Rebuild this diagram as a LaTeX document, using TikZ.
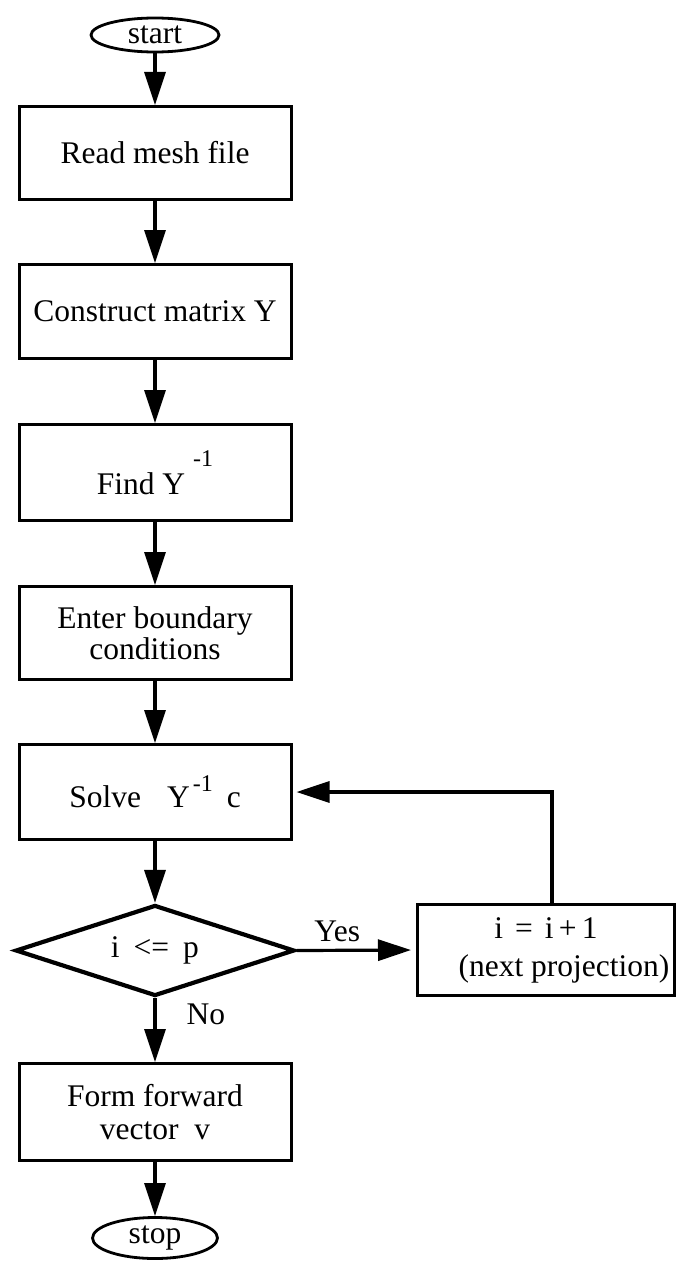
\documentclass[tikz,border=0pt]{standalone}
\usepackage{fontspec}
\setmainfont{Liberation Serif}
\usetikzlibrary{shapes.geometric,arrows.meta,calc}
% raised "-1" exponent
\newcommand\minusone[1]{\raisebox{#1}{\fontsize{24}{24}\selectfont -1}}
\begin{document}
\begin{tikzpicture}[x=1pt,y=-1pt,
  every node/.style={font=\fontsize{31.5}{32}\selectfont},
  proc/.style={draw, line width=3, rectangle, minimum width=272, minimum height=94, inner sep=0, align=center},
  term/.style={draw, line width=2.8, ellipse, inner sep=0},
  decision/.style={draw, line width=4.2, diamond, aspect=3, minimum width=279, minimum height=91, inner sep=0},
  flow/.style={line width=3.2, -{Triangle[length=33pt,width=21pt]}},
  lbl/.style={inner sep=0, anchor=base}]
\useasboundingbox (0,0) rectangle (683,1263);

% main column
\node[term, minimum width=128, minimum height=34] (start) at (155,35) {start};
\node[proc, minimum height=93] (read) at (155,153) {Read mesh file};
\node[proc] (construct) at (155,311.5) {Construct matrix Y};
\node[proc, minimum height=96] (find) at (155,472.5) {Find Y\hspace{8pt}\minusone{28pt}};
\node[proc, minimum height=93] (enter) at (155,633) {Enter boundary\\[-1pt]conditions};
\node[proc, minimum height=95] (solve) at (155,792) {Solve\hspace{26pt}Y\hspace{3pt}\minusone{16pt}\hspace{14pt}c};
\node[decision] (dec) at (155,950.5) {i\hspace{14pt}<=\hspace{14pt}p};
\node[proc, minimum height=97] (form) at (155,1112) {Form forward\\[1pt]vector\ \ v};
\node[term, minimum width=125, minimum height=41] (stop) at (155,1238) {stop};

% side branch
\node[proc, minimum width=257, minimum height=91] (inc) at (546,950)
  {i\hspace{12pt}=\hspace{12pt}i\,+\,1\\[6pt]\hspace*{36pt}(next projection)};

% connectors
\draw[flow] (start.south) -- (read.north);
\draw[flow] (read.south) -- (construct.north);
\draw[flow] (construct.south) -- (find.north);
\draw[flow] (find.south) -- (enter.north);
\draw[flow] (enter.south) -- (solve.north);
\draw[flow] (solve.south) -- (dec.north);
\draw[flow] (dec.south) -- node[lbl, pos=0.42, anchor=base west, xshift=30] {No} (form.north);
\draw[flow] (form.south) -- (stop.north);
\draw[flow, shorten >=5] (dec.east) -- node[lbl, pos=0.34, yshift=9] {Yes} (inc.west);
\draw[flow, shorten >=4] ($(inc.north)+(6,0)$) |- (solve.east);
\end{tikzpicture}
\end{document}
